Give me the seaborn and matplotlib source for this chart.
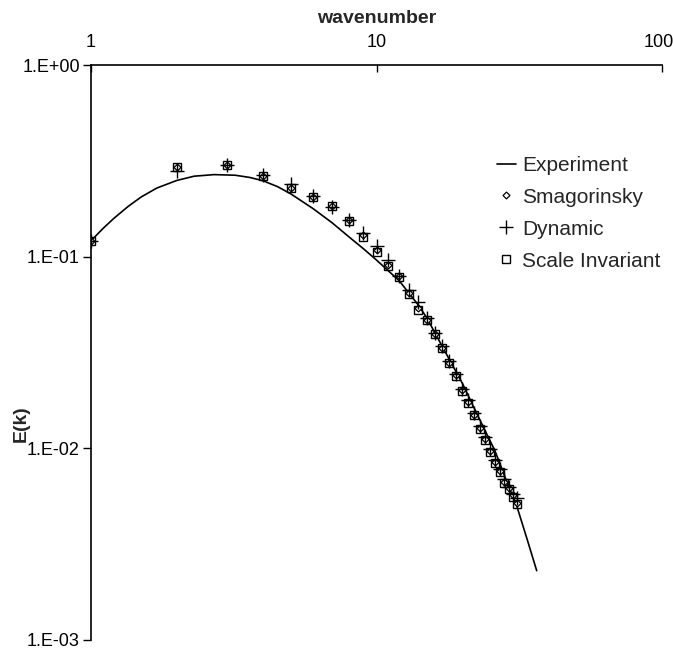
import matplotlib
matplotlib.use("Agg")
import matplotlib.pyplot as plt
import matplotlib.transforms as mtransforms
import seaborn as sns
import pandas as pd

# ---- data ----
exp_k = [1.0, 1.1, 1.2, 1.35, 1.5, 1.7, 2.0, 2.3, 2.7, 3.2, 3.6, 4.0, 4.5, 5.0,
         6.0, 7.0, 8.0, 9.0, 10.0, 12.0, 14.0, 15.0, 17.0, 20.0, 23.0, 26.0,
         28.6, 31.0, 33.6, 36.4]
exp_E = [0.121, 0.140, 0.158, 0.183, 0.205, 0.228, 0.250, 0.263, 0.268, 0.266,
         0.259, 0.249, 0.232, 0.213, 0.178, 0.150, 0.127, 0.110, 0.096, 0.075,
         0.056, 0.048, 0.0340, 0.0218, 0.0141, 0.0097, 0.0067, 0.0050, 0.0034,
         0.0023]

k_pts = list(range(1, 32))
smag_E = [0.121, 0.292, 0.301, 0.265, 0.229, 0.206, 0.184, 0.155, 0.129, 0.108,
          0.091, 0.079, 0.065, 0.054, 0.047, 0.0395, 0.0333, 0.0280, 0.0240,
          0.0201, 0.0174, 0.0150, 0.0127, 0.0112, 0.0097, 0.0085, 0.0076,
          0.0067, 0.0062, 0.0057, 0.0052]
dyn_E = [0.121, 0.280, 0.300, 0.268, 0.238, 0.208, 0.182, 0.155, 0.133, 0.113,
         0.096, 0.079, 0.067, 0.058, 0.048, 0.0400, 0.0340, 0.0285, 0.0245,
         0.0205, 0.0178, 0.0153, 0.0130, 0.0115, 0.0099, 0.0087, 0.0078,
         0.0069, 0.0063, 0.0058, 0.0055]
si_E = [0.121, 0.295, 0.301, 0.265, 0.228, 0.206, 0.184, 0.154, 0.127, 0.106,
        0.089, 0.078, 0.064, 0.053, 0.047, 0.0395, 0.0333, 0.0279, 0.0238,
        0.0200, 0.0173, 0.0149, 0.0126, 0.0111, 0.0096, 0.0084, 0.0075,
        0.0066, 0.0061, 0.0056, 0.0051]

x_ticks = [1, 10, 100]
x_tick_labels = ["1", "10", "100"]
y_ticks = [1e-3, 1e-2, 1e-1, 1e0]
y_tick_labels = ["1.E-03", "1.E-02", "1.E-01", "1.E+00"]

# ---- style ----
sns.set_style("white")
fam = ["Liberation Sans Narrow", "Liberation Sans", "DejaVu Sans"]
plt.rcParams["font.family"] = fam

fig = plt.figure(figsize=(6.73, 6.51), dpi=100)
ax = fig.add_axes([91 / 673, 1 - 640 / 651, (662 - 91) / 673, (640 - 65) / 651])

exp_df = pd.DataFrame({"k": exp_k, "E": exp_E})
sns.lineplot(data=exp_df, x="k", y="E", ax=ax, color="black", linewidth=1.2,
             label="Experiment", sort=False, estimator=None)

smag_df = pd.DataFrame({"k": k_pts, "E": smag_E})
dyn_df = pd.DataFrame({"k": k_pts, "E": dyn_E})
si_df = pd.DataFrame({"k": k_pts, "E": si_E})

sns.lineplot(data=smag_df, x="k", y="E", ax=ax, linestyle="", marker="D",
             markersize=3.5, markerfacecolor="white", markeredgecolor="black",
             markeredgewidth=0.9, color="black", label="Smagorinsky",
             estimator=None)
sns.lineplot(data=dyn_df, x="k", y="E", ax=ax, linestyle="", marker="+",
             markersize=10, markeredgewidth=1.0, markeredgecolor="black",
             color="black", label="Dynamic", estimator=None)
sns.lineplot(data=si_df, x="k", y="E", ax=ax, linestyle="", marker="s",
             markersize=6, markerfacecolor="none", markeredgecolor="black",
             markeredgewidth=1.0, color="black", label="Scale Invariant",
             estimator=None)

ax.set_xscale("log")
ax.set_yscale("log")
ax.set_xlim(1, 100)
ax.set_ylim(1e-3, 1)

ax.xaxis.tick_top()
ax.xaxis.set_label_position("top")
ax.set_xticks(x_ticks)
ax.set_xticklabels(x_tick_labels)
ax.set_yticks(y_ticks)
ax.set_yticklabels(y_tick_labels)
ax.minorticks_off()

ax.tick_params(axis="x", which="major", direction="in", length=5, width=1,
               pad=10, labelsize=13, colors="black", top=True, bottom=False)
ax.tick_params(axis="y", which="major", direction="out", length=6, width=1,
               pad=2, labelsize=13, colors="black", left=True)

# keep the "100" label inside the canvas (it sits right at the edge)
last_lbl = ax.get_xticklabels()[-1]
last_lbl.set_transform(last_lbl.get_transform() +
                       mtransforms.ScaledTranslation(-3 / 100, 0, fig.dpi_scale_trans))

for side in ["right", "bottom"]:
    ax.spines[side].set_visible(False)
for side in ["top", "left"]:
    ax.spines[side].set_color("black")
    ax.spines[side].set_linewidth(1.2)

ax.set_xlabel("wavenumber", fontsize=14, fontweight="bold", labelpad=8)
ax.set_ylabel("E(k)", fontsize=14, fontweight="bold")
ax.yaxis.set_label_coords(-0.107, 0.376)

handles, labels = ax.get_legend_handles_labels()
leg = ax.legend(handles, labels, loc="upper left",
                bbox_to_anchor=(0.711, 0.842), frameon=False, fontsize=15,
                borderaxespad=0, borderpad=0,
                handlelength=0.9, handletextpad=0.3, labelspacing=0.62)

fig.savefig("out.png", dpi=100)
